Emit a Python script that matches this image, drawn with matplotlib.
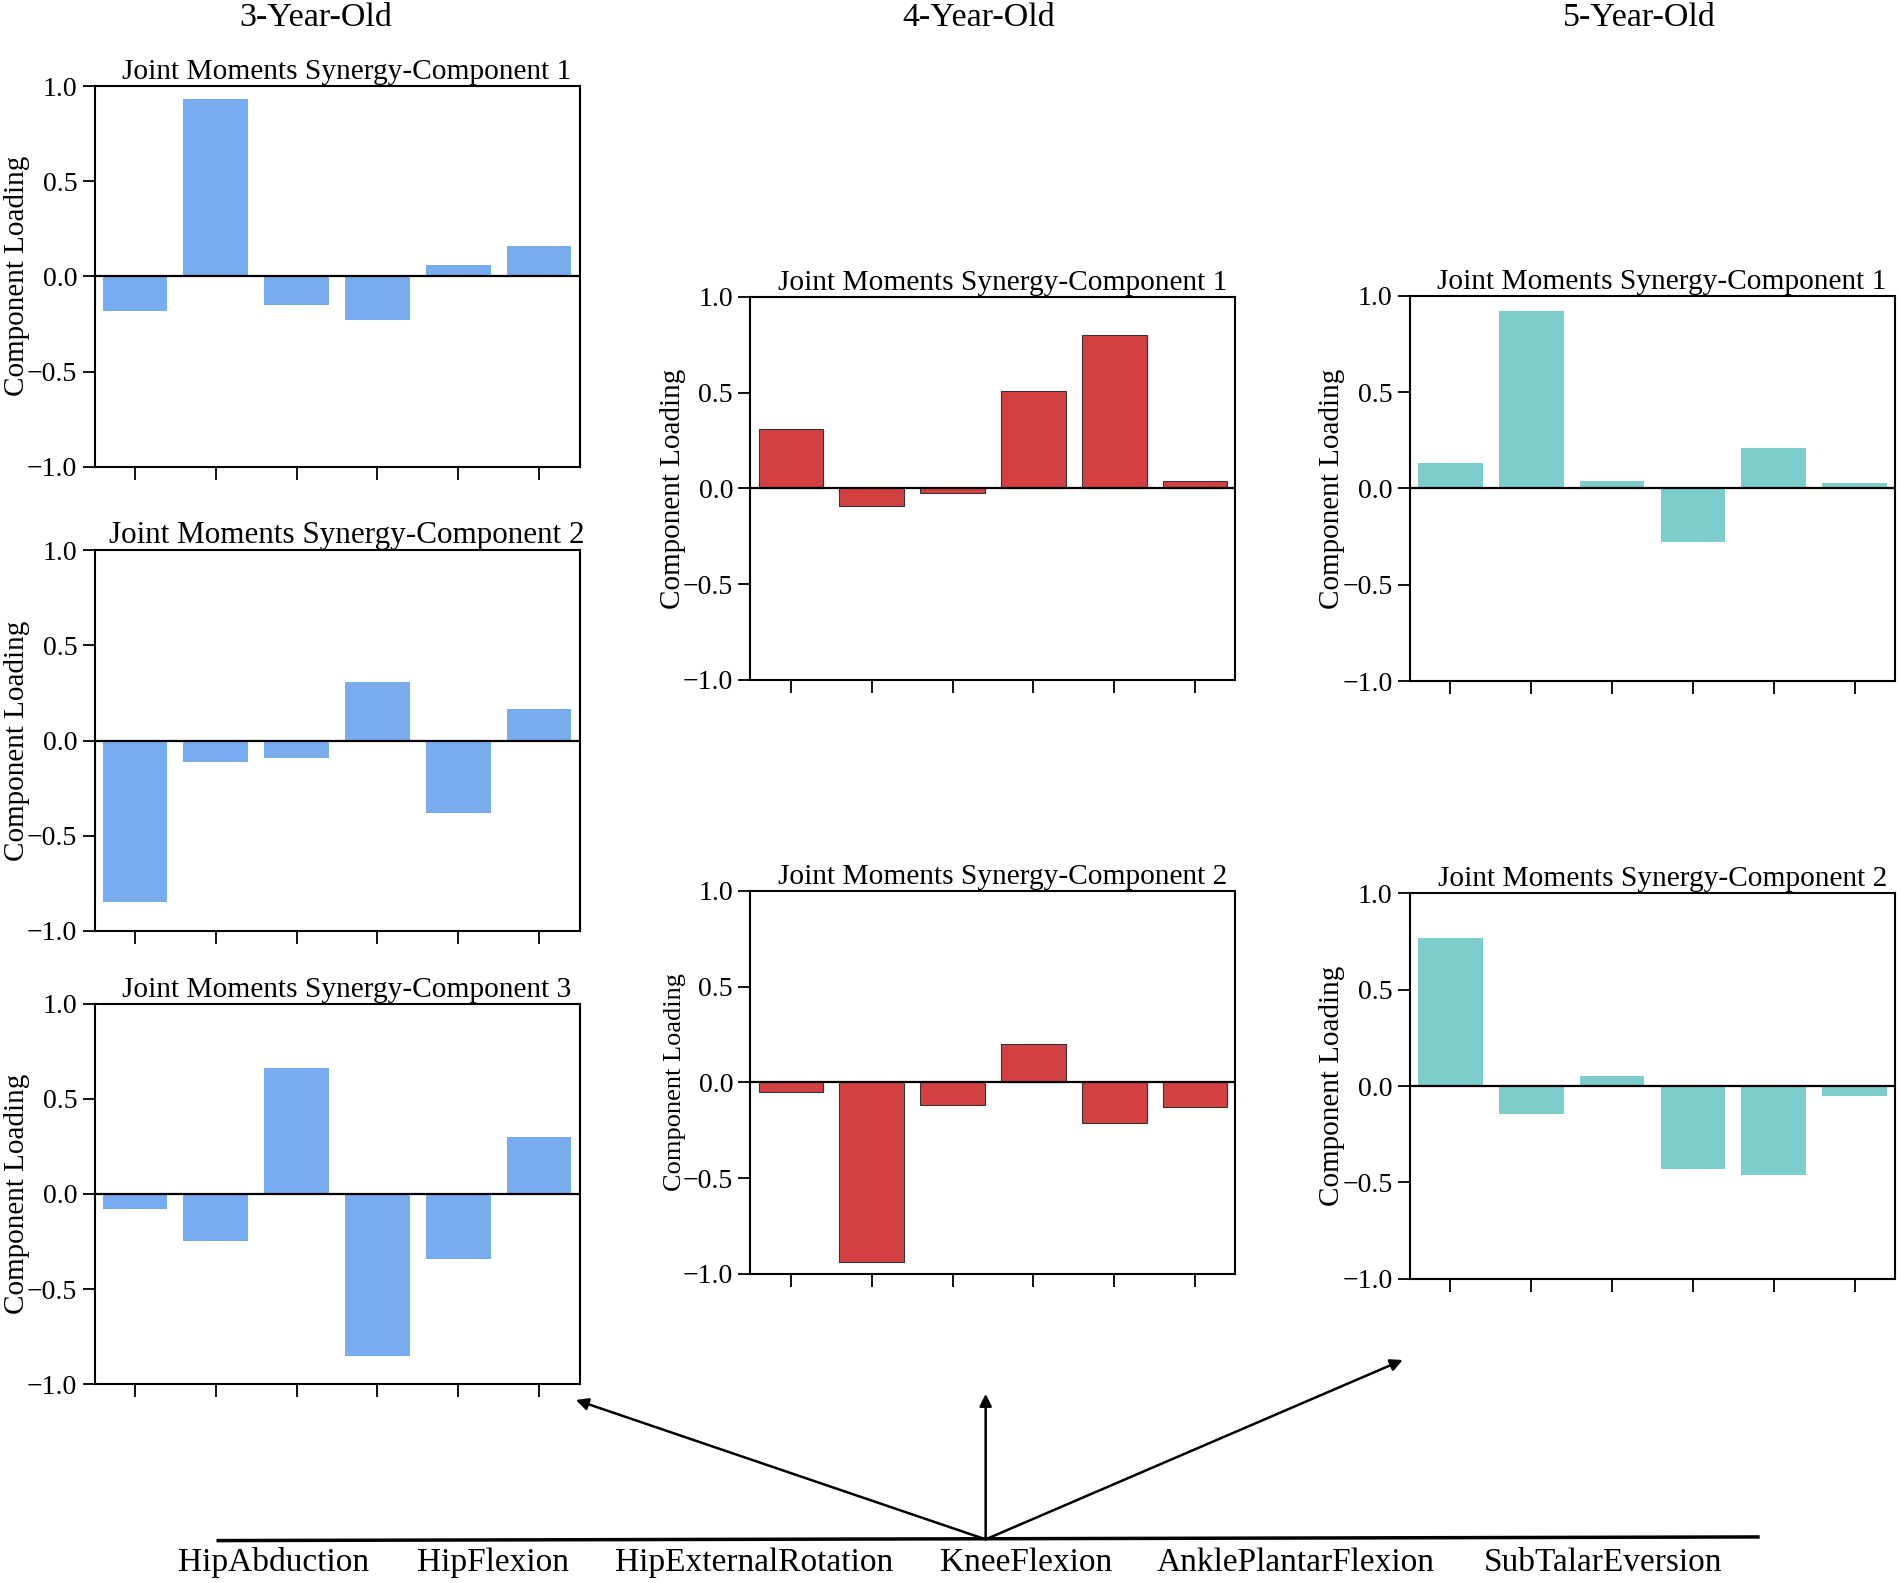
import matplotlib
matplotlib.use("Agg")
import matplotlib.pyplot as plt
import numpy as np

plt.rcParams['font.family'] = ['Liberation Serif', 'DejaVu Serif']
plt.rcParams['axes.unicode_minus'] = True

joints = ["HipAbduction", "HipFlexion", "HipExternalRotation",
          "KneeFlexion", "AnklePlantarFlexion", "SubTalarEversion"]
age_groups = ["3-Year-Old", "4-Year-Old", "5-Year-Old"]

y3_c1 = [-0.18, 0.93, -0.15, -0.23, 0.06, 0.16]
y3_c2 = [-0.85, -0.11, -0.09, 0.31, -0.38, 0.165]
y3_c3 = [-0.08, -0.25, 0.66, -0.85, -0.34, 0.30]
y4_c1 = [0.31, -0.09, -0.025, 0.51, 0.80, 0.04]
y4_c2 = [-0.05, -0.94, -0.12, 0.20, -0.21, -0.13]
y5_c1 = [0.13, 0.92, 0.04, -0.28, 0.21, 0.03]
y5_c2 = [0.77, -0.145, 0.05, -0.43, -0.46, -0.05]

yticks = [-1.0, -0.5, 0.0, 0.5, 1.0]

BLUE = "#78ACEE"
RED = "#D34042"
TEAL = "#7CCDCB"

W, H = 1568.0, 1306.0
fig = plt.figure(figsize=(19.01, 15.83), dpi=100)


def rect(x0, y0, x1, y1):
    return [x0 / W, 1 - y1 / H, (x1 - x0) / W, (y1 - y0) / H]


panels = [
    (rect(78, 71, 478, 385), y3_c1, BLUE, "none", "Joint Moments Synergy-Component 1", 21.2, 5, 21),
    (rect(78, 454, 478, 768), y3_c2, BLUE, "none", "Joint Moments Synergy-Component 2", 22.4, 2, 21),
    (rect(78, 828, 478, 1142), y3_c3, BLUE, "none", "Joint Moments Synergy-Component 3", 21.2, 5, 21),
    (rect(619, 245, 1019, 561), y4_c1, RED, "#333333", "Joint Moments Synergy-Component 1", 21.2, 5, 21),
    (rect(619, 735, 1019, 1051), y4_c2, RED, "#333333", "Joint Moments Synergy-Component 2", 21.2, 5, 19),
    (rect(1163, 244, 1563, 562), y5_c1, TEAL, "none", "Joint Moments Synergy-Component 1", 21.2, 5, 21),
    (rect(1163, 737, 1563, 1055), y5_c2, TEAL, "none", "Joint Moments Synergy-Component 2", 21.2, 5, 21),
]

for r, vals, col, ec, title, tfs, tpad, ylfs in panels:
    ax = fig.add_axes(r)
    x = np.arange(len(joints))
    ax.bar(x, vals, width=0.8, color=col, edgecolor=ec, linewidth=0.8 if ec != "none" else 0)
    ax.axhline(0, color="black", lw=1.6)
    ax.set_xlim(-0.5, len(joints) - 0.5)
    ax.set_ylim(-1.0, 1.0)
    ax.set_yticks(yticks)
    ax.set_yticklabels([f"{v:.1f}".replace("-", "\u2212") for v in yticks])
    ax.set_xticks(x)
    ax.set_xticklabels([])
    ax.tick_params(axis="both", direction="out", length=9, width=1.3, labelsize=20)
    for s in ax.spines.values():
        s.set_linewidth(1.5)
    ax.set_title(title, fontsize=tfs, x=0.52, pad=tpad)
    ax.set_ylabel("Component Loading", fontsize=ylfs)
    ax.yaxis.set_label_coords(-0.133, 0.5)

# Column headers
for name, xc in zip(age_groups, [260, 807, 1352]):
    fig.text(xc / W, 1 - 15 / H, name, ha="center", va="center", fontsize=24.5)

# Overlay for arrows and joint labels
ov = fig.add_axes([0, 0, 1, 1], facecolor="none")
ov.set_xlim(0, W)
ov.set_ylim(H, 0)
ov.axis("off")
ov.plot([180, 1450], [1271, 1268], color="black", lw=2.5)
base = (813, 1270)
for tip in [(475, 1155), (813, 1150), (1157, 1122)]:
    ov.annotate("", xy=tip, xytext=base,
                arrowprops=dict(arrowstyle="-|>", color="black", lw=1.8,
                                mutation_scale=18, shrinkA=0, shrinkB=0))
for lab, xc in zip(joints, [226, 407, 622, 846, 1069, 1322]):
    ov.text(xc, 1289, lab, ha="center", va="center", fontsize=24)

fig.savefig("out.png", dpi=100)
